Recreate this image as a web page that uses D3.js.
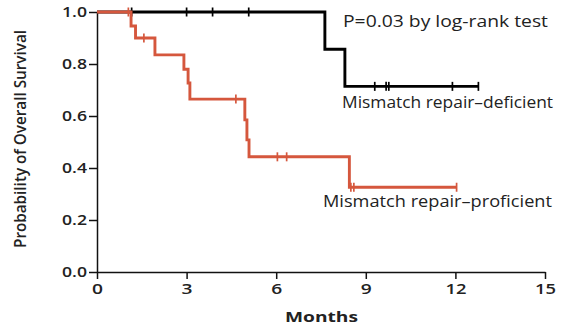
<!DOCTYPE html>
<html>
<head>
<meta charset="utf-8">
<script src="https://cdn.jsdelivr.net/npm/d3@7"></script>
<style>
body { margin: 0; background: #ffffff; }
text { font-family: "Open Sans", sans-serif; fill: #222; }
</style>
</head>
<body>
<script>
// ticks
var xTicks = [0, 3, 6, 9, 12, 15];
var yTicks = [0, 0.2, 0.4, 0.6, 0.8, 1.0];

// mismatch repair-deficient (black)
var defEventTimes = [7.63, 8.3];
var defEventSurv = [0.857, 0.714];
var defCensored = [1.16, 3.0, 3.87, 5.08, 9.3, 9.68, 9.77, 11.9, 12.77];
var defEnd = 12.77;

// mismatch repair-proficient (red)
var proEventTimes = [1.14, 1.29, 1.94, 2.91, 3.05, 3.11, 4.95, 5.02, 5.09, 8.45];
var proEventSurv = [0.946, 0.9, 0.835, 0.78, 0.727, 0.665, 0.585, 0.508, 0.443, 0.326];
var proCensored = [1.05, 1.57, 4.65, 6.04, 6.35, 8.5, 8.6, 12.04];
var proEnd = 12.04;

var width = 561, height = 327;
var red = "#d5573d";

var svg = d3.select("body").append("svg")
	.attr("width", width)
	.attr("height", height);

var x = d3.scaleLinear().domain([0, 15]).range([97, 545]);
var y = d3.scaleLinear().domain([0, 1]).range([272, 12]);

// axes
var yAxis = svg.append("g")
	.attr("transform", "translate(" + x(0) + ",0)")
	.call(d3.axisLeft(y).tickValues(yTicks).tickSize(8).tickSizeOuter(0).tickPadding(2)
		.tickFormat(d3.format(".1f")));

var xAxis = svg.append("g")
	.attr("transform", "translate(0," + y(0) + ")")
	.call(d3.axisBottom(x).tickValues(xTicks).tickSize(7).tickSizeOuter(0).tickPadding(5));

svg.selectAll(".domain").attr("stroke", "#111").attr("stroke-width", 1.5);
svg.selectAll(".tick line").attr("stroke", "#111").attr("stroke-width", 1.5);
yAxis.selectAll("text")
	.attr("font-size", 13.5)
	.attr("font-weight", 600)
	.attr("textLength", 25)
	.attr("lengthAdjust", "spacingAndGlyphs")
	.style("font-family", "'Open Sans', sans-serif");
xAxis.selectAll("text")
	.attr("font-size", 14)
	.attr("font-weight", 600)
	.attr("textLength", function(d) { return d >= 10 ? 21 : 11; })
	.attr("lengthAdjust", "spacingAndGlyphs")
	.style("font-family", "'Open Sans', sans-serif");

function stepPoints(times, surv, end) {
	var pts = [[0, 1]];
	for (var i = 0; i < times.length; i++) pts.push([times[i], surv[i]]);
	pts.push([end, surv[surv.length - 1]]);
	return pts;
}

function survAt(t, times, surv) {
	var s = 1;
	for (var i = 0; i < times.length; i++) if (times[i] <= t) s = surv[i];
	return s;
}

var line = d3.line()
	.x(function(d) { return x(d[0]); })
	.y(function(d) { return y(d[1]); })
	.curve(d3.curveStepAfter);

function drawCurve(times, surv, end, censored, color, sw) {
	svg.append("path")
		.datum(stepPoints(times, surv, end))
		.attr("fill", "none")
		.attr("stroke", color)
		.attr("stroke-width", sw)
		.attr("stroke-linejoin", "miter")
		.attr("d", line);

	svg.selectAll(null)
		.data(censored)
		.enter()
		.append("line")
		.attr("x1", function(d) { return x(d); })
		.attr("x2", function(d) { return x(d); })
		.attr("y1", function(d) { return y(survAt(d, times, surv)) - 4.5; })
		.attr("y2", function(d) { return y(survAt(d, times, surv)) + 4.5; })
		.attr("stroke", color)
		.attr("stroke-width", 1.7);
}

drawCurve(defEventTimes, defEventSurv, defEnd, defCensored, "#000", 2.9);
drawCurve(proEventTimes, proEventSurv, proEnd, proCensored, red, 2.9);

// labels
svg.append("text")
	.attr("x", 343).attr("y", 26.5)
	.attr("font-size", 15.5)
	.attr("textLength", 205)
	.attr("lengthAdjust", "spacingAndGlyphs")
	.text("P=0.03 by log-rank test");

svg.append("text")
	.attr("x", 342).attr("y", 108)
	.attr("font-size", 15.5)
	.attr("textLength", 211)
	.attr("lengthAdjust", "spacingAndGlyphs")
	.text("Mismatch repair\u2013deficient");

svg.append("text")
	.attr("x", 323).attr("y", 207)
	.attr("font-size", 15.5)
	.attr("textLength", 229)
	.attr("lengthAdjust", "spacingAndGlyphs")
	.text("Mismatch repair\u2013proficient");

svg.append("text")
	.attr("x", 321.5).attr("y", 322)
	.attr("text-anchor", "middle")
	.attr("font-size", 15)
	.attr("font-weight", 700)
	.attr("textLength", 73)
	.attr("lengthAdjust", "spacingAndGlyphs")
	.text("Months");

svg.append("text")
	.attr("transform", "translate(25.5,139) rotate(-90)")
	.attr("text-anchor", "middle")
	.attr("font-size", 16)
	.attr("font-weight", 600)
	.attr("textLength", 218)
	.attr("lengthAdjust", "spacingAndGlyphs")
	.text("Probability of Overall Survival");
</script>
</body>
</html>
